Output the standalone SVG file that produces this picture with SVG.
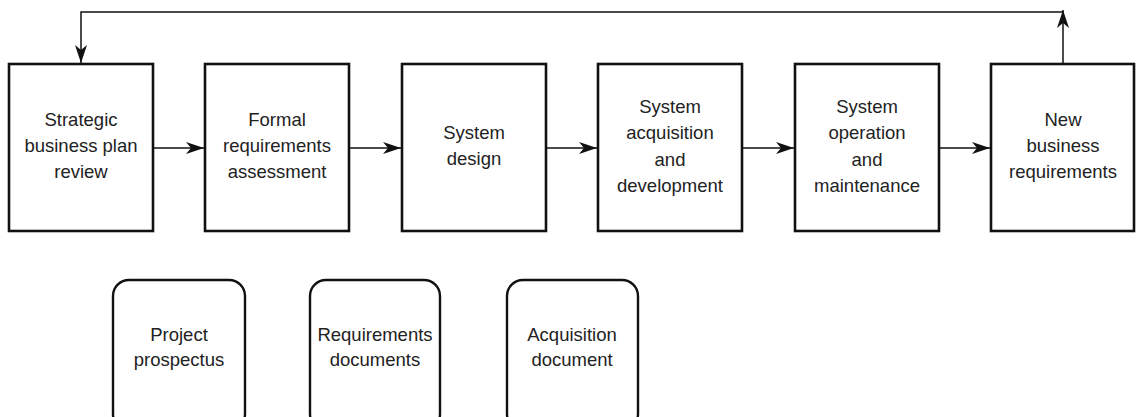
<svg xmlns="http://www.w3.org/2000/svg" width="1136" height="417" viewBox="0 0 1136 417">
<style>
.box{fill:#fff;stroke:#111;stroke-width:2.6}
.doc{fill:#fff;stroke:#111;stroke-width:2.4}
.t{font-family:"Liberation Sans",Arial,sans-serif;font-size:18.5px;fill:#222;text-anchor:middle}
.c{fill:none;stroke:#111;stroke-width:1.5}
</style>
<defs>
<marker id="ah" viewBox="0 0 18 12" refX="18" refY="6" markerWidth="18" markerHeight="12" markerUnits="userSpaceOnUse" orient="auto">
<path d="M0,0 L18,6 L0,12 L5,6 z" fill="#111"/>
</marker>
</defs>
<g id="connectors">
<line class="c" x1="153" y1="148" x2="204" y2="148" marker-end="url(#ah)"/>
<line class="c" x1="349" y1="148" x2="401" y2="148" marker-end="url(#ah)"/>
<line class="c" x1="546" y1="148" x2="597" y2="148" marker-end="url(#ah)"/>
<line class="c" x1="742" y1="148" x2="794" y2="148" marker-end="url(#ah)"/>
<line class="c" x1="939" y1="148" x2="990" y2="148" marker-end="url(#ah)"/>
<line class="c" x1="1063" y1="64" x2="1063" y2="10" marker-end="url(#ah)"/>
<polyline class="c" points="1063,12 81,12 81,63" marker-end="url(#ah)"/>
</g>
<g id="n1"><rect class="box" x="9" y="64" width="144" height="167"/>
<text class="t" x="81" y="126">Strategic</text><text class="t" x="81" y="152">business plan</text><text class="t" x="81" y="178">review</text></g>
<g id="n2"><rect class="box" x="205" y="64" width="144" height="167"/>
<text class="t" x="277" y="126">Formal</text><text class="t" x="277" y="152">requirements</text><text class="t" x="277" y="178">assessment</text></g>
<g id="n3"><rect class="box" x="402" y="64" width="144" height="167"/>
<text class="t" x="474" y="139">System</text><text class="t" x="474" y="165">design</text></g>
<g id="n4"><rect class="box" x="598" y="64" width="144" height="167"/>
<text class="t" x="670" y="113">System</text><text class="t" x="670" y="139">acquisition</text><text class="t" x="670" y="166">and</text><text class="t" x="670" y="192">development</text></g>
<g id="n5"><rect class="box" x="795" y="64" width="144" height="167"/>
<text class="t" x="867" y="113">System</text><text class="t" x="867" y="139">operation</text><text class="t" x="867" y="166">and</text><text class="t" x="867" y="192">maintenance</text></g>
<g id="n6"><rect class="box" x="991" y="64" width="143" height="167"/>
<text class="t" x="1063" y="126">New</text><text class="t" x="1063" y="152">business</text><text class="t" x="1063" y="178">requirements</text></g>
<g id="d1"><rect class="doc" x="113" y="280" width="132" height="150" rx="16"/>
<text class="t" x="179" y="341">Project</text><text class="t" x="179" y="366">prospectus</text></g>
<g id="d2"><rect class="doc" x="310" y="280" width="130" height="150" rx="16"/>
<text class="t" x="375" y="341">Requirements</text><text class="t" x="375" y="366">documents</text></g>
<g id="d3"><rect class="doc" x="507" y="280" width="131" height="150" rx="16"/>
<text class="t" x="572" y="341">Acquisition</text><text class="t" x="572" y="366">document</text></g>
</svg>
